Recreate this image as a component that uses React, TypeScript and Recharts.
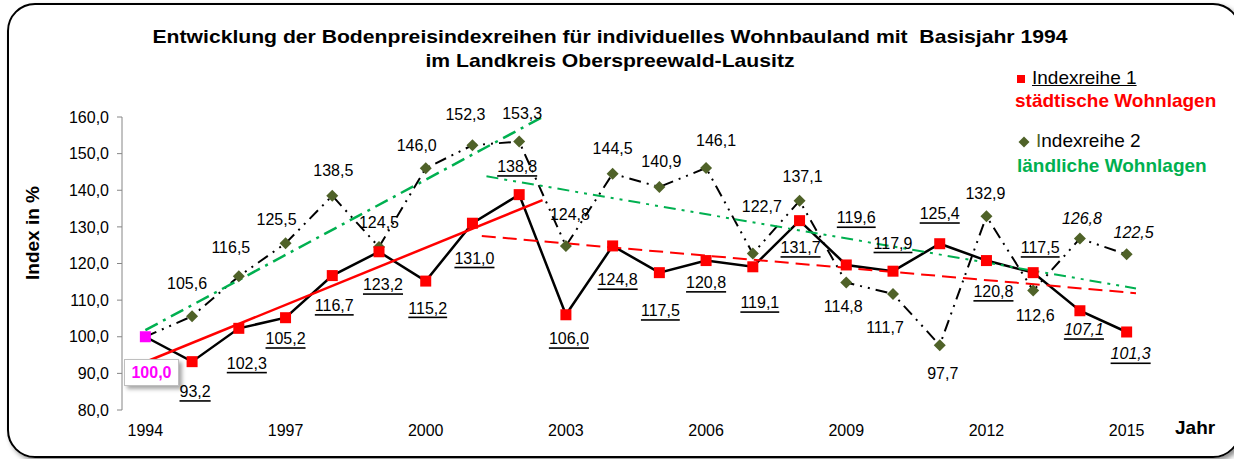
import { LineChart, Line, XAxis, YAxis } from "recharts"

// Jahre und Indexreihen (Basisjahr 1994 = 100)
const YEARS = [1994, 1995, 1996, 1997, 1998, 1999, 2000, 2001, 2002, 2003, 2004, 2005, 2006, 2007, 2008, 2009, 2010, 2011, 2012, 2013, 2014, 2015]
const STAEDTISCH = [100.0, 93.2, 102.3, 105.2, 116.7, 123.2, 115.2, 131.0, 138.8, 106.0, 124.8, 117.5, 120.8, 119.1, 131.7, 119.6, 117.9, 125.4, 120.8, 117.5, 107.1, 101.3]
const LAENDLICH = [100.0, 105.6, 116.5, 125.5, 138.5, 124.5, 146.0, 152.3, 153.3, 124.8, 144.5, 140.9, 146.1, 122.7, 137.1, 114.8, 111.7, 97.7, 132.9, 112.6, 126.8, 122.5]

// Trendlinien: [Jahr, Wert] an Anfang und Ende
const TREND_STADT_1 = [[1994, 93.1], [2002.5, 137.3]]
const TREND_STADT_2 = [[2001.2, 127.5], [2015.2, 111.9]]
const TREND_LAND_1 = [[1994, 101.8], [2002.5, 160.0]]
const TREND_LAND_2 = [[2001.3, 143.8], [2015.2, 113.2]]

const X_TICKS = [1994, 1997, 2000, 2003, 2006, 2009, 2012, 2015]
const X_MINOR_TICKS = [1993.5, 1994.5, 1995.5, 1996.5, 1997.5, 1998.5, 1999.5, 2000.5, 2001.5, 2002.5, 2003.5, 2004.5, 2005.5, 2006.5, 2007.5, 2008.5, 2009.5, 2010.5, 2011.5, 2012.5, 2013.5, 2014.5, 2015.5]
const Y_TICKS = [80, 90, 100, 110, 120, 130, 140, 150, 160]

// Label-Versatz relativ zum Punkt
const S1_DX = [0, 3, 8, 0, 2, 4, 2, 2, -2, 3, 5, 1, 0, 7, 1, 10, 0, 0, 7, 7, 4, 4]
const S1_DY = [0, 30, 35, 21, 30, 33, 27, 35, -28, 24, 34, 38, 22, 36, 27, -47, -28, -30, 31, -25, 19, 22]
const S2_DX = [0, -5, -8, -9, 1, 0, -9, -7, 3, 4, 0, 2, 10, 9, 3, -3, -8, 3, -1, 2, 2, 7]
const S2_DY = [0, -33, -29, -24, -25, -25, -23, -31, -28, -31, -25, -25, -27, -47, -24, 24, 34, 28, -23, 25, -20, -22]

const FONT = '"Liberation Sans", Arial, sans-serif'
const RED = "#ff0000"
const GREEN = "#00b050"
const OLIVE = "#4f6228"
const MAGENTA = "#ff00ff"
const AXIS = "#868686"

const fmt = (v: number) => v.toFixed(1).replace(".", ",")

const data = YEARS.map((year, i) => ({ year, s1: STAEDTISCH[i], s2: LAENDLICH[i] }))
const toLine = (pts: number[][]) => pts.map(([year, v]) => ({ year, v }))

function Square(props: any) {
  const { cx, cy, index } = props
  if (cx == null || cy == null) return null
  return (
    <rect key={`sq${index}`} x={cx - 5.5} y={cy - 5.5} width={11} height={11} fill={index === 0 ? MAGENTA : RED} />
  )
}

function Diamond(props: any) {
  const { cx, cy, index } = props
  if (cx == null || cy == null || index === 0) return <g key={`dm${index}`} />
  return (
    <polygon
      key={`dm${index}`}
      points={`${cx},${cy - 6} ${cx + 6},${cy} ${cx},${cy + 6} ${cx - 6},${cy}`}
      fill={OLIVE}
    />
  )
}

function s1Label(p: any) {
  const { x, y, index, value } = p
  if (index === 0 || x == null) return <g key={`s1l${index}`} />
  return (
    <text
      key={`s1l${index}`}
      x={x + S1_DX[index]}
      y={y + S1_DY[index]}
      textAnchor="middle"
      dominantBaseline="central"
      fontSize={16}
      fill="#000"
      fontStyle={index >= 20 ? "italic" : "normal"}
      style={{ textDecoration: "underline" }}
    >
      {fmt(Number(value))}
    </text>
  )
}

function s2Label(p: any) {
  const { x, y, index, value } = p
  if (index === 0 || x == null) return <g key={`s2l${index}`} />
  return (
    <text
      key={`s2l${index}`}
      x={x + S2_DX[index]}
      y={y + S2_DY[index]}
      textAnchor="middle"
      dominantBaseline="central"
      fontSize={16}
      fill="#000"
      fontStyle={index >= 20 ? "italic" : "normal"}
    >
      {fmt(Number(value))}
    </text>
  )
}

export default function App() {
  return (
    <div style={{ position: "fixed", left: 0, top: 0, width: 1234, height: 459, background: "#fff", fontFamily: FONT, overflow: "hidden" }}>
      <div
        style={{
          position: "absolute",
          left: 7,
          top: 3,
          width: 1230,
          height: 451,
          border: "2px solid #000",
          borderRadius: 28,
          boxShadow: "3px 3px 5px rgba(0,0,0,0.45)",
        }}
      />
      <div
        style={{
          position: "absolute",
          left: 0,
          top: 25,
          width: 1220,
          textAlign: "center",
          fontWeight: "bold",
          fontSize: 19,
          lineHeight: "24px",
          color: "#000",
          transform: "scaleX(1.113)",
          transformOrigin: "610px 0",
        }}
      >
        Entwicklung der Bodenpreisindexreihen für individuelles Wohnbauland mit&nbsp; Basisjahr 1994
        <br />
        im Landkreis Oberspreewald-Lausitz
      </div>

      <LineChart width={1234} height={459} data={data} margin={{ top: 117, right: 84, left: 62, bottom: 19 }} style={{ position: "absolute", left: 0, top: 0 }}>
        <XAxis
          xAxisId="minor"
          dataKey="year"
          type="number"
          domain={[1993.5, 2015.5]}
          ticks={X_MINOR_TICKS}
          tickFormatter={() => ""}
          height={0}
          axisLine={{ stroke: AXIS, strokeWidth: 1 }}
          tickLine={{ stroke: AXIS }}
          tickSize={5}
        />
        <XAxis
          xAxisId="main"
          dataKey="year"
          type="number"
          domain={[1993.5, 2015.5]}
          ticks={X_TICKS}
          height={30}
          axisLine={false}
          tickLine={false}
          tickSize={0}
          tickMargin={15}
          tick={{ fontSize: 16, fill: "#000", fontFamily: FONT }}
        />
        <YAxis
          domain={[80, 160]}
          ticks={Y_TICKS}
          allowDataOverflow
          width={60}
          tickFormatter={(v: number) => fmt(v)}
          axisLine={{ stroke: AXIS }}
          tickLine={{ stroke: AXIS }}
          tickSize={5}
          tickMargin={8}
          tick={{ fontSize: 16, fill: "#000", fontFamily: FONT }}
        />
        <Line
          xAxisId="main"
          dataKey="s2"
          stroke="#000"
          strokeWidth={2}
          strokeDasharray="12 6 2 6 2 6"
          dot={Diamond}
          activeDot={false}
          label={s2Label}
          isAnimationActive={false}
        />
        <Line
          xAxisId="main"
          dataKey="s1"
          stroke="#000"
          strokeWidth={2.5}
          dot={Square}
          activeDot={false}
          label={s1Label}
          isAnimationActive={false}
        />
        <Line xAxisId="main" data={toLine(TREND_STADT_1)} dataKey="v" stroke={RED} strokeWidth={2.5} dot={false} activeDot={false} isAnimationActive={false} />
        <Line xAxisId="main" data={toLine(TREND_STADT_2)} dataKey="v" stroke={RED} strokeWidth={2} strokeDasharray="14 7" dot={false} activeDot={false} isAnimationActive={false} />
        <Line xAxisId="main" data={toLine(TREND_LAND_1)} dataKey="v" stroke={GREEN} strokeWidth={2.5} strokeDasharray="14 6 3 6" dot={false} activeDot={false} isAnimationActive={false} />
        <Line xAxisId="main" data={toLine(TREND_LAND_2)} dataKey="v" stroke={GREEN} strokeWidth={2} strokeDasharray="12 6 3 6 3 6" dot={false} activeDot={false} isAnimationActive={false} />
      </LineChart>

      {/* Basiswert 1994 */}
      <div
        style={{
          position: "absolute",
          left: 124,
          top: 359,
          width: 53,
          height: 25,
          background: "#fff",
          border: "1px solid #bfbfbf",
          boxShadow: "3px 3px 4px rgba(0,0,0,0.35)",
          color: MAGENTA,
          fontWeight: "bold",
          fontSize: 16,
          lineHeight: "25px",
          textAlign: "center",
        }}
      >
        {fmt(STAEDTISCH[0])}
      </div>

      <div style={{ position: "absolute", left: 12, top: 233, width: 40, height: 0 }}>
        <div style={{ position: "absolute", left: 0, top: 0, transform: "translate(-50%, -50%) rotate(-90deg)", transformOrigin: "center", whiteSpace: "nowrap", fontWeight: "bold", fontSize: 19, color: "#000", marginLeft: 21 }}>
          Index in %
        </div>
      </div>

      <div style={{ position: "absolute", left: 1175, top: 417, fontWeight: "bold", fontSize: 19, color: "#000" }}>Jahr</div>

      {/* Legende */}
      <div style={{ position: "absolute", left: 1017, top: 75, width: 8, height: 8, background: RED }} />
      <div style={{ position: "absolute", left: 1015, top: 67, fontSize: 19, color: "#000", whiteSpace: "nowrap", textDecoration: "underline" }}>
        <span style={{ display: "inline-block", width: 17 }} />Indexreihe 1
      </div>
      <div style={{ position: "absolute", left: 1015, top: 90, fontSize: 19, fontWeight: "bold", color: RED, whiteSpace: "nowrap" }}>
        städtische Wohnlagen
      </div>
      <svg style={{ position: "absolute", left: 1018, top: 136 }} width={12} height={12}>
        <polygon points="6,0.5 11.5,6 6,11.5 0.5,6" fill={OLIVE} />
      </svg>
      <div style={{ position: "absolute", left: 1036, top: 130, fontSize: 19, color: "#000", whiteSpace: "nowrap" }}>
        <span style={{ color: OLIVE }}>I</span>ndexreihe 2
      </div>
      <div style={{ position: "absolute", left: 1017, top: 155, fontSize: 19, fontWeight: "bold", color: GREEN, whiteSpace: "nowrap" }}>
        ländliche Wohnlagen
      </div>
    </div>
  )
}
